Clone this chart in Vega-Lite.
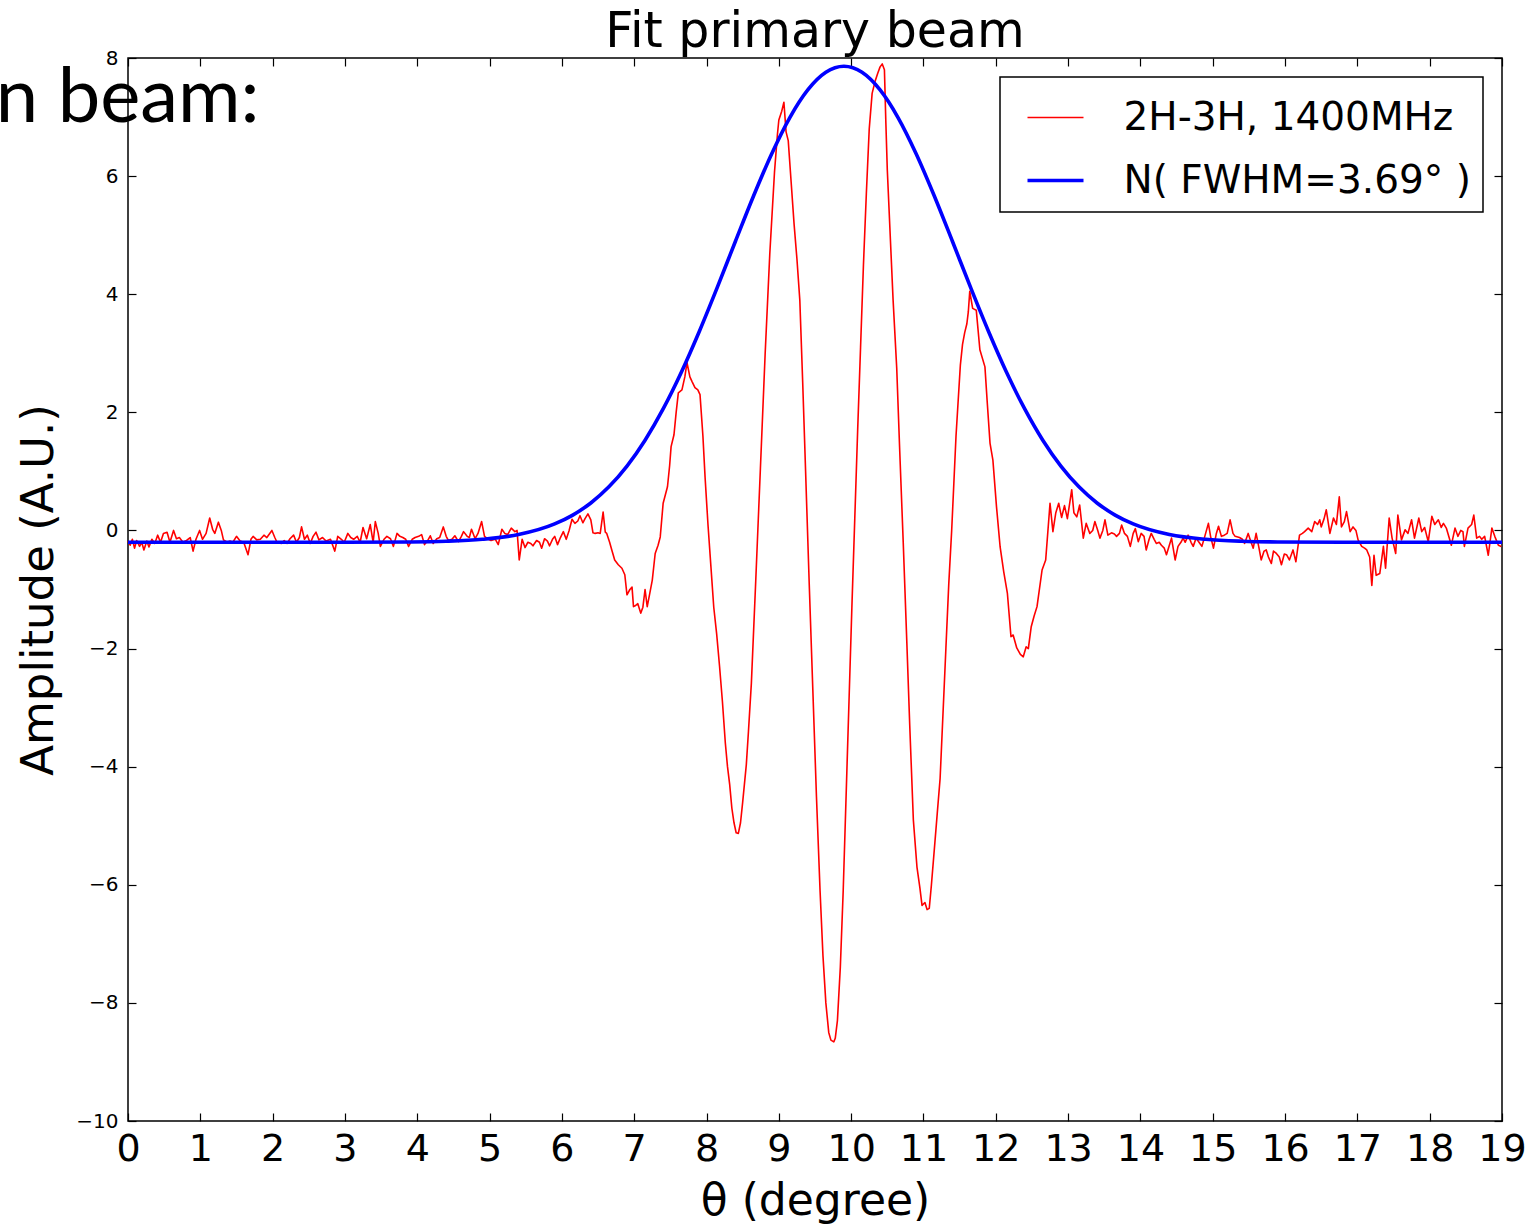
{
  "$schema": "https://vega.github.io/schema/vega-lite/v6.json",
  "width": 1374,
  "height": 1063,
  "autosize": {"type": "none"},
  "padding": {"left": 128, "top": 58, "right": 32, "bottom": 106},
  "background": "white",
  "title": {"text": "Fit primary beam", "fontSize": 49, "font": "DejaVu Sans", "fontWeight": "normal", "color": "#000", "anchor": "middle", "offset": 0, "baseline": "bottom", "dy": 58},
  "datasets": {
    "red": [
      {"theta":0.00,"amp":-0.18},{"theta":0.03,"amp":-0.25},{"theta":0.06,"amp":-0.15},{"theta":0.09,"amp":-0.3},{"theta":0.12,"amp":-0.17},{"theta":0.16,"amp":-0.27},{"theta":0.19,"amp":-0.2},{"theta":0.22,"amp":-0.33},{"theta":0.26,"amp":-0.18},{"theta":0.29,"amp":-0.28},{"theta":0.33,"amp":-0.15},{"theta":0.37,"amp":-0.22},{"theta":0.41,"amp":-0.08},{"theta":0.45,"amp":-0.2},{"theta":0.49,"amp":-0.05},{"theta":0.54,"amp":-0.03},{"theta":0.58,"amp":-0.2},{"theta":0.63,"amp":0.0},{"theta":0.67,"amp":-0.14},{"theta":0.71,"amp":-0.12},{"theta":0.76,"amp":-0.2},{"theta":0.81,"amp":-0.17},{"theta":0.86,"amp":-0.12},{"theta":0.90,"amp":-0.35},{"theta":0.94,"amp":-0.15},{"theta":0.99,"amp":0.0},{"theta":1.03,"amp":-0.15},{"theta":1.08,"amp":-0.05},{"theta":1.13,"amp":0.21},{"theta":1.17,"amp":0.02},{"theta":1.20,"amp":-0.05},{"theta":1.25,"amp":0.14},{"theta":1.29,"amp":0.0},{"theta":1.32,"amp":-0.16},{"theta":1.37,"amp":-0.2},{"theta":1.41,"amp":-0.18},{"theta":1.45,"amp":-0.2},{"theta":1.50,"amp":-0.1},{"theta":1.55,"amp":-0.18},{"theta":1.60,"amp":-0.2},{"theta":1.66,"amp":-0.41},{"theta":1.70,"amp":-0.15},{"theta":1.73,"amp":-0.1},{"theta":1.78,"amp":-0.16},{"theta":1.83,"amp":-0.15},{"theta":1.88,"amp":-0.08},{"theta":1.92,"amp":-0.12},{"theta":1.99,"amp":0.0},{"theta":2.03,"amp":-0.12},{"theta":2.06,"amp":-0.2},{"theta":2.12,"amp":-0.22},{"theta":2.16,"amp":-0.17},{"theta":2.20,"amp":-0.22},{"theta":2.24,"amp":-0.14},{"theta":2.29,"amp":-0.08},{"theta":2.33,"amp":-0.2},{"theta":2.37,"amp":-0.12},{"theta":2.40,"amp":0.06},{"theta":2.44,"amp":-0.15},{"theta":2.48,"amp":-0.08},{"theta":2.52,"amp":-0.22},{"theta":2.56,"amp":-0.1},{"theta":2.60,"amp":-0.03},{"theta":2.64,"amp":-0.16},{"theta":2.69,"amp":-0.12},{"theta":2.74,"amp":-0.18},{"theta":2.80,"amp":-0.15},{"theta":2.86,"amp":-0.35},{"theta":2.90,"amp":-0.1},{"theta":2.95,"amp":-0.15},{"theta":2.99,"amp":-0.2},{"theta":3.04,"amp":-0.05},{"theta":3.08,"amp":-0.12},{"theta":3.12,"amp":-0.15},{"theta":3.17,"amp":-0.1},{"theta":3.21,"amp":-0.2},{"theta":3.25,"amp":0.05},{"theta":3.30,"amp":-0.14},{"theta":3.35,"amp":0.1},{"theta":3.39,"amp":-0.2},{"theta":3.42,"amp":0.15},{"theta":3.46,"amp":-0.05},{"theta":3.49,"amp":-0.27},{"theta":3.54,"amp":-0.15},{"theta":3.58,"amp":-0.1},{"theta":3.63,"amp":-0.14},{"theta":3.67,"amp":-0.27},{"theta":3.72,"amp":-0.05},{"theta":3.76,"amp":-0.1},{"theta":3.80,"amp":-0.12},{"theta":3.84,"amp":-0.15},{"theta":3.88,"amp":-0.27},{"theta":3.93,"amp":-0.15},{"theta":3.97,"amp":-0.12},{"theta":4.02,"amp":-0.1},{"theta":4.06,"amp":-0.07},{"theta":4.10,"amp":-0.24},{"theta":4.14,"amp":-0.18},{"theta":4.18,"amp":-0.09},{"theta":4.22,"amp":-0.22},{"theta":4.27,"amp":-0.14},{"theta":4.31,"amp":-0.12},{"theta":4.36,"amp":0.06},{"theta":4.40,"amp":-0.1},{"theta":4.43,"amp":-0.17},{"theta":4.48,"amp":-0.15},{"theta":4.52,"amp":-0.09},{"theta":4.57,"amp":-0.19},{"theta":4.61,"amp":-0.1},{"theta":4.64,"amp":-0.02},{"theta":4.69,"amp":-0.1},{"theta":4.72,"amp":-0.12},{"theta":4.75,"amp":0.02},{"theta":4.80,"amp":-0.14},{"theta":4.84,"amp":-0.05},{"theta":4.89,"amp":0.15},{"theta":4.93,"amp":-0.1},{"theta":4.97,"amp":-0.14},{"theta":5.02,"amp":-0.17},{"theta":5.08,"amp":-0.15},{"theta":5.12,"amp":-0.24},{"theta":5.17,"amp":0.02},{"theta":5.21,"amp":-0.05},{"theta":5.25,"amp":-0.07},{"theta":5.30,"amp":0.04},{"theta":5.35,"amp":-0.02},{"theta":5.38,"amp":0.0},{"theta":5.41,"amp":-0.5},{"theta":5.45,"amp":-0.15},{"theta":5.49,"amp":-0.29},{"theta":5.53,"amp":-0.2},{"theta":5.57,"amp":-0.22},{"theta":5.60,"amp":-0.26},{"theta":5.65,"amp":-0.17},{"theta":5.69,"amp":-0.2},{"theta":5.72,"amp":-0.3},{"theta":5.76,"amp":-0.14},{"theta":5.80,"amp":-0.18},{"theta":5.83,"amp":-0.26},{"theta":5.87,"amp":-0.15},{"theta":5.90,"amp":-0.1},{"theta":5.94,"amp":-0.24},{"theta":5.98,"amp":-0.12},{"theta":6.02,"amp":-0.02},{"theta":6.06,"amp":-0.15},{"theta":6.10,"amp":0.0},{"theta":6.14,"amp":0.19},{"theta":6.18,"amp":0.12},{"theta":6.22,"amp":0.16},{"theta":6.25,"amp":0.25},{"theta":6.29,"amp":0.13},{"theta":6.32,"amp":0.2},{"theta":6.36,"amp":0.28},{"theta":6.40,"amp":0.18},{"theta":6.43,"amp":-0.04},{"theta":6.46,"amp":-0.05},{"theta":6.50,"amp":-0.04},{"theta":6.53,"amp":-0.05},{"theta":6.57,"amp":0.31},{"theta":6.60,"amp":-0.03},{"theta":6.62,"amp":-0.05},{"theta":6.66,"amp":-0.2},{"theta":6.69,"amp":-0.33},{"theta":6.73,"amp":-0.5},{"theta":6.78,"amp":-0.58},{"theta":6.83,"amp":-0.64},{"theta":6.87,"amp":-0.75},{"theta":6.90,"amp":-1.09},{"theta":6.94,"amp":-1.0},{"theta":6.97,"amp":-0.96},{"theta":6.99,"amp":-1.29},{"theta":7.02,"amp":-1.27},{"theta":7.05,"amp":-1.24},{"theta":7.09,"amp":-1.4},{"theta":7.12,"amp":-1.3},{"theta":7.15,"amp":-1.0},{"theta":7.18,"amp":-1.29},{"theta":7.21,"amp":-1.1},{"theta":7.25,"amp":-0.84},{"theta":7.29,"amp":-0.39},{"theta":7.33,"amp":-0.25},{"theta":7.36,"amp":-0.11},{"theta":7.40,"amp":0.46},{"theta":7.43,"amp":0.6},{"theta":7.46,"amp":0.74},{"theta":7.49,"amp":1.1},{"theta":7.51,"amp":1.42},{"theta":7.55,"amp":1.62},{"theta":7.58,"amp":2.0},{"theta":7.61,"amp":2.33},{"theta":7.66,"amp":2.38},{"theta":7.70,"amp":2.6},{"theta":7.73,"amp":2.84},
      {"theta":7.77,"amp":2.6},{"theta":7.80,"amp":2.52},{"theta":7.84,"amp":2.42},{"theta":7.88,"amp":2.38},{"theta":7.91,"amp":2.3},{"theta":7.95,"amp":1.6},{"theta":7.98,"amp":0.9},{"theta":8.02,"amp":0.1},{"theta":8.06,"amp":-0.6},{"theta":8.10,"amp":-1.3},{"theta":8.14,"amp":-1.75},{"theta":8.18,"amp":-2.3},{"theta":8.22,"amp":-2.9},{"theta":8.26,"amp":-3.6},{"theta":8.29,"amp":-4.0},{"theta":8.32,"amp":-4.3},{"theta":8.35,"amp":-4.7},{"theta":8.38,"amp":-4.95},{"theta":8.41,"amp":-5.12},{"theta":8.44,"amp":-5.13},
      {"theta":8.47,"amp":-4.95},{"theta":8.50,"amp":-4.6},{"theta":8.55,"amp":-3.97},{"theta":8.58,"amp":-3.4},{"theta":8.62,"amp":-2.59},{"theta":8.68,"amp":-0.87},{"theta":8.745,"amp":1.05},{"theta":8.81,"amp":2.97},{"theta":8.875,"amp":4.69},{"theta":8.94,"amp":6.07},{"theta":8.98,"amp":6.7},{"theta":9.00,"amp":6.95},{"theta":9.04,"amp":7.1},{"theta":9.07,"amp":7.25},
      {"theta":9.10,"amp":6.75},{"theta":9.13,"amp":6.6},{"theta":9.17,"amp":5.9},{"theta":9.21,"amp":5.2},{"theta":9.25,"amp":4.6},{"theta":9.29,"amp":3.9},{"theta":9.33,"amp":2.5},{"theta":9.37,"amp":1.0},{"theta":9.42,"amp":-0.9},{"theta":9.47,"amp":-2.7},{"theta":9.52,"amp":-4.5},{"theta":9.57,"amp":-6.1},{"theta":9.61,"amp":-7.2},{"theta":9.65,"amp":-8.0},{"theta":9.69,"amp":-8.5},{"theta":9.72,"amp":-8.63},{"theta":9.76,"amp":-8.66},{"theta":9.78,"amp":-8.6},
      {"theta":9.81,"amp":-8.3},{"theta":9.85,"amp":-7.4},{"theta":9.89,"amp":-6.1},{"theta":9.93,"amp":-4.5},{"theta":9.97,"amp":-2.9},{"theta":10.01,"amp":-1.3},{"theta":10.05,"amp":0.2},{"theta":10.09,"amp":1.7},{"theta":10.13,"amp":3.1},{"theta":10.17,"amp":4.5},{"theta":10.21,"amp":5.7},{"theta":10.25,"amp":6.8},{"theta":10.29,"amp":7.4},{"theta":10.33,"amp":7.6},{"theta":10.37,"amp":7.75},{"theta":10.40,"amp":7.85},{"theta":10.43,"amp":7.9},{"theta":10.46,"amp":7.8},
      {"theta":10.48,"amp":6.9},{"theta":10.50,"amp":6.1},{"theta":10.54,"amp":5.0},{"theta":10.58,"amp":3.9},{"theta":10.63,"amp":2.75},{"theta":10.67,"amp":1.4},{"theta":10.72,"amp":-0.2},{"theta":10.77,"amp":-1.9},{"theta":10.81,"amp":-3.3},{"theta":10.86,"amp":-4.9},{"theta":10.91,"amp":-5.7},{"theta":10.95,"amp":-6.05},{"theta":10.98,"amp":-6.35},{"theta":11.02,"amp":-6.3},{"theta":11.05,"amp":-6.42},{"theta":11.08,"amp":-6.4},
      {"theta":11.11,"amp":-6.0},{"theta":11.15,"amp":-5.4},{"theta":11.19,"amp":-4.8},{"theta":11.23,"amp":-4.2},{"theta":11.27,"amp":-3.1},{"theta":11.31,"amp":-2.0},{"theta":11.35,"amp":-0.9},{"theta":11.39,"amp":0.0},{"theta":11.42,"amp":0.8},{"theta":11.45,"amp":1.6},{"theta":11.48,"amp":2.2},{"theta":11.51,"amp":2.8},{"theta":11.54,"amp":3.15},{"theta":11.57,"amp":3.35},{"theta":11.60,"amp":3.5},{"theta":11.62,"amp":3.7},{"theta":11.64,"amp":4.05},
      {"theta":11.68,"amp":3.76},{"theta":11.73,"amp":3.73},{"theta":11.78,"amp":3.06},{"theta":11.85,"amp":2.77},{"theta":11.88,"amp":2.2},{"theta":11.92,"amp":1.48},{"theta":11.96,"amp":1.19},{"theta":12.01,"amp":0.4},{"theta":12.06,"amp":-0.28},{"theta":12.11,"amp":-0.7},{"theta":12.16,"amp":-1.06},{"theta":12.21,"amp":-1.8},{"theta":12.24,"amp":-1.77},{"theta":12.29,"amp":-1.99},{"theta":12.34,"amp":-2.1},{"theta":12.38,"amp":-2.14},{"theta":12.42,"amp":-1.97},{"theta":12.45,"amp":-2.0},{"theta":12.49,"amp":-1.63},{"theta":12.53,"amp":-1.45},{"theta":12.57,"amp":-1.29},{"theta":12.64,"amp":-0.67},{"theta":12.69,"amp":-0.5},{"theta":12.75,"amp":0.46},{"theta":12.79,"amp":-0.02},{"theta":12.83,"amp":0.3},{"theta":12.87,"amp":0.46},{"theta":12.91,"amp":0.22},{"theta":12.95,"amp":0.42},{"theta":12.99,"amp":0.2},
      {"theta":13.05,"amp":0.69},{"theta":13.08,"amp":0.3},{"theta":13.12,"amp":0.23},{"theta":13.16,"amp":0.43},{"theta":13.21,"amp":-0.13},{"theta":13.25,"amp":0.12},{"theta":13.30,"amp":-0.05},{"theta":13.34,"amp":0.0},{"theta":13.37,"amp":0.15},{"theta":13.41,"amp":0.0},{"theta":13.44,"amp":-0.13},{"theta":13.48,"amp":0.0},{"theta":13.51,"amp":0.18},{"theta":13.55,"amp":-0.08},{"theta":13.60,"amp":-0.04},{"theta":13.64,"amp":-0.06},{"theta":13.67,"amp":-0.1},{"theta":13.71,"amp":-0.05},{"theta":13.74,"amp":0.09},{"theta":13.78,"amp":-0.05},{"theta":13.82,"amp":-0.1},{"theta":13.86,"amp":-0.27},{"theta":13.90,"amp":-0.05},{"theta":13.93,"amp":0.03},{"theta":13.97,"amp":-0.19},{"theta":14.01,"amp":-0.05},{"theta":14.05,"amp":-0.1},{"theta":14.08,"amp":-0.33},{"theta":14.12,"amp":-0.15},{"theta":14.15,"amp":-0.05},{"theta":14.19,"amp":-0.15},{"theta":14.22,"amp":-0.22},{"theta":14.26,"amp":-0.2},{"theta":14.29,"amp":-0.25},{"theta":14.33,"amp":-0.3},{"theta":14.36,"amp":-0.41},{"theta":14.40,"amp":-0.25},{"theta":14.43,"amp":-0.13},{"theta":14.48,"amp":-0.5},{"theta":14.52,"amp":-0.27},{"theta":14.56,"amp":-0.2},{"theta":14.59,"amp":-0.13},{"theta":14.62,"amp":-0.2},{"theta":14.66,"amp":-0.08},{"theta":14.70,"amp":-0.2},{"theta":14.73,"amp":-0.27},{"theta":14.77,"amp":-0.13},{"theta":14.81,"amp":-0.2},{"theta":14.85,"amp":-0.27},{"theta":14.89,"amp":-0.1},{"theta":14.94,"amp":0.12},{"theta":14.97,"amp":-0.1},{"theta":15.01,"amp":-0.3},{"theta":15.05,"amp":-0.05},{"theta":15.08,"amp":0.07},{"theta":15.12,"amp":-0.1},{"theta":15.16,"amp":-0.08},{"theta":15.20,"amp":-0.05},{"theta":15.24,"amp":0.18},{"theta":15.28,"amp":-0.05},{"theta":15.31,"amp":-0.1},{"theta":15.37,"amp":-0.12},{"theta":15.41,"amp":-0.15},{"theta":15.44,"amp":-0.22},{"theta":15.49,"amp":-0.05},{"theta":15.53,"amp":-0.2},{"theta":15.56,"amp":-0.3},{"theta":15.60,"amp":-0.05},{"theta":15.64,"amp":-0.3},{"theta":15.67,"amp":-0.5},{"theta":15.71,"amp":-0.35},{"theta":15.74,"amp":-0.33},{"theta":15.77,"amp":-0.45},{"theta":15.81,"amp":-0.56},{"theta":15.84,"amp":-0.35},{"theta":15.88,"amp":-0.39},{"theta":15.92,"amp":-0.45},{"theta":15.95,"amp":-0.58},{"theta":15.99,"amp":-0.4},{"theta":16.02,"amp":-0.41},{"theta":16.06,"amp":-0.5},{"theta":16.11,"amp":-0.33},{"theta":16.15,"amp":-0.53},{"theta":16.20,"amp":-0.08},{"theta":16.24,"amp":-0.05},{"theta":16.27,"amp":-0.02},{"theta":16.32,"amp":0.04},{"theta":16.37,"amp":-0.02},{"theta":16.41,"amp":0.15},{"theta":16.45,"amp":0.1},{"theta":16.48,"amp":0.18},{"theta":16.50,"amp":0.06},{"theta":16.54,"amp":0.2},{"theta":16.57,"amp":0.35},{"theta":16.62,"amp":-0.05},{"theta":16.67,"amp":0.21},{"theta":16.71,"amp":0.1},{"theta":16.75,"amp":0.57},{"theta":16.78,"amp":0.06},{"theta":16.82,"amp":0.15},{"theta":16.85,"amp":0.32},{"theta":16.90,"amp":-0.02},{"theta":16.94,"amp":0.06},{"theta":16.98,"amp":0.0},{"theta":17.01,"amp":-0.16},{"theta":17.06,"amp":-0.27},{"theta":17.10,"amp":-0.3},{"theta":17.13,"amp":-0.33},{"theta":17.17,"amp":-0.45},{"theta":17.20,"amp":-0.93},{"theta":17.23,"amp":-0.42},{"theta":17.26,"amp":-0.76},{"theta":17.31,"amp":-0.73},{"theta":17.36,"amp":-0.27},{"theta":17.39,"amp":-0.64},{"theta":17.44,"amp":0.21},{"theta":17.48,"amp":-0.13},{"theta":17.53,"amp":-0.39},{"theta":17.56,"amp":0.26},{"theta":17.61,"amp":-0.16},{"theta":17.66,"amp":0.01},{"theta":17.70,"amp":-0.05},{"theta":17.75,"amp":0.18},{"theta":17.79,"amp":-0.13},{"theta":17.85,"amp":0.21},{"theta":17.89,"amp":-0.02},{"theta":17.93,"amp":0.05},{"theta":17.98,"amp":-0.19},{"theta":18.03,"amp":0.24},{"theta":18.07,"amp":0.1},{"theta":18.12,"amp":0.18},{"theta":18.16,"amp":0.05},{"theta":18.19,"amp":0.12},{"theta":18.23,"amp":0.04},{"theta":18.30,"amp":-0.25},{"theta":18.35,"amp":0.04},{"theta":18.39,"amp":-0.1},{"theta":18.43,"amp":0.0},{"theta":18.46,"amp":-0.02},{"theta":18.48,"amp":-0.27},{"theta":18.53,"amp":0.04},{"theta":18.58,"amp":0.1},{"theta":18.61,"amp":0.26},{"theta":18.65,"amp":-0.13},{"theta":18.69,"amp":-0.1},{"theta":18.72,"amp":-0.15},{"theta":18.76,"amp":-0.1},{"theta":18.81,"amp":-0.42},{"theta":18.86,"amp":0.04},{"theta":18.90,"amp":-0.1},{"theta":18.95,"amp":-0.25},{"theta":18.99,"amp":-0.27}
    ],
    "blue": [
      {"theta":0,"amp":-0.2},{"theta":3.0,"amp":-0.2},{"theta":3.9,"amp":-0.195},{"theta":4.4,"amp":-0.183},{"theta":4.9,"amp":-0.15},{"theta":5.4,"amp":-0.07},{"theta":5.9,"amp":0.11},{"theta":6.15,"amp":0.26},{"theta":6.4,"amp":0.465},{"theta":6.65,"amp":0.738},{"theta":6.9,"amp":1.09},{"theta":7.15,"amp":1.528},{"theta":7.4,"amp":2.058},{"theta":7.65,"amp":2.675},{"theta":7.9,"amp":3.37},{"theta":8.15,"amp":4.12},{"theta":8.4,"amp":4.897},{"theta":8.65,"amp":5.663},{"theta":8.9,"amp":6.375},{"theta":9.15,"amp":6.988},{"theta":9.4,"amp":7.46},{"theta":9.65,"amp":7.758},{"theta":9.9,"amp":7.86},{"theta":10.15,"amp":7.758},{"theta":10.4,"amp":7.46},{"theta":10.65,"amp":6.988},{"theta":10.9,"amp":6.375},{"theta":11.15,"amp":5.663},{"theta":11.4,"amp":4.897},{"theta":11.65,"amp":4.12},{"theta":11.9,"amp":3.37},{"theta":12.15,"amp":2.675},{"theta":12.4,"amp":2.058},{"theta":12.65,"amp":1.528},{"theta":12.9,"amp":1.09},{"theta":13.15,"amp":0.738},{"theta":13.4,"amp":0.465},{"theta":13.65,"amp":0.26},{"theta":13.9,"amp":0.11},{"theta":14.4,"amp":-0.07},{"theta":14.9,"amp":-0.15},{"theta":15.4,"amp":-0.183},{"theta":15.9,"amp":-0.195},{"theta":16.8,"amp":-0.2},{"theta":19,"amp":-0.2}
    ],
    "note": [{"label": "n beam:"}]
  },
  "layer": [
    {
      "data": {"name": "red"},
      "mark": {"type": "line", "interpolate": "linear", "strokeJoin": "round"},
      "encoding": {
        "x": {"field": "theta", "type": "quantitative", "scale": {"domain": [0, 19], "nice": false, "zero": false},
              "axis": {"orient": "bottom", "values": [0,1,2,3,4,5,6,7,8,9,10,11,12,13,14,15,16,17,18,19], "title": "θ (degree)", "labelFontSize": 38, "labelPadding": 17, "titleFontSize": 44, "titlePadding": 11, "labelFlush": false, "labelOverlap": false}},
        "y": {"field": "amp", "type": "quantitative", "scale": {"domain": [-10, 8], "nice": false, "zero": false},
              "axis": {"orient": "left", "values": [-10,-8,-6,-4,-2,0,2,4,6,8], "title": "Amplitude (A.U.)", "labelFontSize": 20, "labelPadding": 18, "titleFontSize": 45, "titlePadding": 14, "labelFlush": false, "labelOverlap": false}},
        "color": {"datum": "2H-3H, 1400MHz", "type": "nominal", "scale": {"domain": ["2H-3H, 1400MHz", "N( FWHM=3.69° )"], "range": ["#ff0000", "#0000ff"]}, "legend": {"title": null}},
        "strokeWidth": {"datum": "2H-3H, 1400MHz", "type": "nominal", "scale": {"domain": ["2H-3H, 1400MHz", "N( FWHM=3.69° )"], "range": [1.6, 3.6]}, "legend": {"title": null}}
      }
    },
    {
      "data": {"name": "blue"},
      "mark": {"type": "line", "interpolate": "monotone"},
      "encoding": {
        "x": {"field": "theta", "type": "quantitative", "axis": {"orient": "top", "values": [0,1,2,3,4,5,6,7,8,9,10,11,12,13,14,15,16,17,18,19], "labels": false, "title": null}},
        "y": {"field": "amp", "type": "quantitative", "axis": {"orient": "right", "values": [-10,-8,-6,-4,-2,0,2,4,6,8], "labels": false, "title": null}},
        "color": {"datum": "N( FWHM=3.69° )", "type": "nominal"},
        "strokeWidth": {"datum": "N( FWHM=3.69° )", "type": "nominal"}
      }
    },
    {
      "data": {"name": "note"},
      "mark": {"type": "text", "align": "right", "baseline": "alphabetic", "fontSize": 76, "font": "Lato", "color": "#000"},
      "encoding": {
        "x": {"datum": 1.82, "type": "quantitative", "axis": null},
        "y": {"datum": 6.92, "type": "quantitative", "axis": null},
        "text": {"field": "label", "type": "nominal"}
      }
    }
  ],
  "resolve": {"axis": {"x": "independent", "y": "independent"}},
  "config": {
    "view": {"stroke": "#000", "strokeWidth": 1.5},
    "axis": {"domain": false, "grid": false, "tickColor": "#000", "tickSize": -8, "tickWidth": 1.2, "labelColor": "#000", "titleColor": "#000", "labelFont": "DejaVu Sans", "titleFont": "DejaVu Sans", "titleFontWeight": "normal"},
    "legend": {"orient": "top-right", "offset": 19, "fillColor": "#fff", "strokeColor": "#000", "strokeWidth": 1.5, "padding": 11.5, "symbolType": "stroke", "symbolSize": 3136, "symbolOffset": 14, "labelFontSize": 39, "labelFont": "DejaVu Sans", "labelColor": "#000", "labelOffset": 38, "rowPadding": 13, "labelLimit": 0, "cornerRadius": 0}
  }
}
